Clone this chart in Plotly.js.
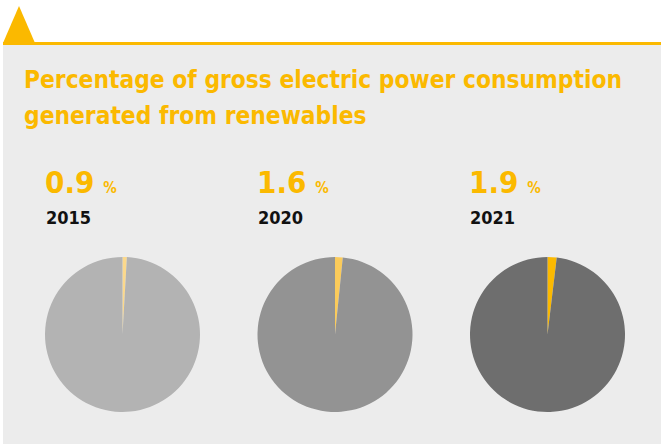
<!DOCTYPE html>
<html><head><meta charset="utf-8">
<script src="https://cdn.plot.ly/plotly-3.0.1.min.js"></script>
<style>html,body{margin:0;padding:0;background:#fff}#c{width:661px;height:444px}</style>
</head><body><div id="c"></div>
<script>
const years = ['2015', '2020', '2021'];
const renewableShare = [0.9, 1.6, 1.9];
const pieBaseColors = ['#b3b3b3', '#939393', '#6e6e6e'];
const sliceColors = ['#fcd98c', '#fbcb5a', '#fbb900'];
const titleLines = ['Percentage of gross electric power consumption', 'generated from renewables'];

const W = 661, H = 444;
const px = x => x / W, py = y => 1 - y / H;
const FONT = '"DejaVu Sans Condensed", "DejaVu Sans", sans-serif';
const YEL = '#fbb900';

const centers = [122.5, 335, 547.5];
const R = 77.5, CY = 334.5;

const data = years.map((yr, i) => ({
  type: 'pie',
  values: [renewableShare[i], 100 - renewableShare[i]],
  labels: ['Renewables', 'Other'],
  sort: false,
  direction: 'clockwise',
  rotation: 0,
  textinfo: 'none',
  hoverinfo: 'skip',
  showlegend: false,
  marker: {colors: [sliceColors[i], pieBaseColors[i]], line: {width: 0}},
  domain: {x: [px(centers[i] - R), px(centers[i] + R)], y: [py(CY + R), py(CY - R)]}
}));

const annotations = [];
titleLines.forEach((t, k) => annotations.push({
  xref: 'paper', yref: 'paper', x: px(22), y: py(96 + k * 36), xanchor: 'left', yanchor: 'bottom',
  text: '<b>' + t + '</b>', showarrow: false, font: {family: FONT, size: 24.3, color: YEL}
}));
const numX = [46, 258, 470];
years.forEach((yr, i) => {
  annotations.push({
    xref: 'paper', yref: 'paper', x: px(numX[i] - 3), y: py(202), xanchor: 'left', yanchor: 'bottom',
    text: '<b>' + renewableShare[i].toFixed(1) + '</b> <b><span style="font-size:15px">%</span></b>',
    showarrow: false, font: {family: FONT, size: 31, color: YEL}
  });
  annotations.push({
    xref: 'paper', yref: 'paper', x: px(numX[i] - 2), y: py(230), xanchor: 'left', yanchor: 'bottom',
    text: '<b>' + yr + '</b>', showarrow: false, font: {family: FONT, size: 18, color: '#111'}
  });
});

const layout = {
  width: W, height: H,
  margin: {l: 0, r: 0, t: 0, b: 0},
  paper_bgcolor: '#ffffff',
  shapes: [
    {type: 'rect', xref: 'paper', yref: 'paper', x0: px(3), x1: 1, y0: 0, y1: py(44), fillcolor: '#ececec', line: {width: 0}, layer: 'below'},
    {type: 'rect', xref: 'paper', yref: 'paper', x0: px(3), x1: 1, y0: py(45), y1: py(42), fillcolor: YEL, line: {width: 0}, layer: 'below'},
    {type: 'path', xref: 'paper', yref: 'paper', path: `M ${px(3)} ${py(43)} L ${px(19)} ${py(6)} L ${px(35)} ${py(43)} Z`, fillcolor: YEL, line: {width: 0}, layer: 'below'}
  ],
  annotations: annotations
};

Plotly.newPlot('c', data, layout, {staticPlot: true, displayModeBar: false});
</script></body></html>
